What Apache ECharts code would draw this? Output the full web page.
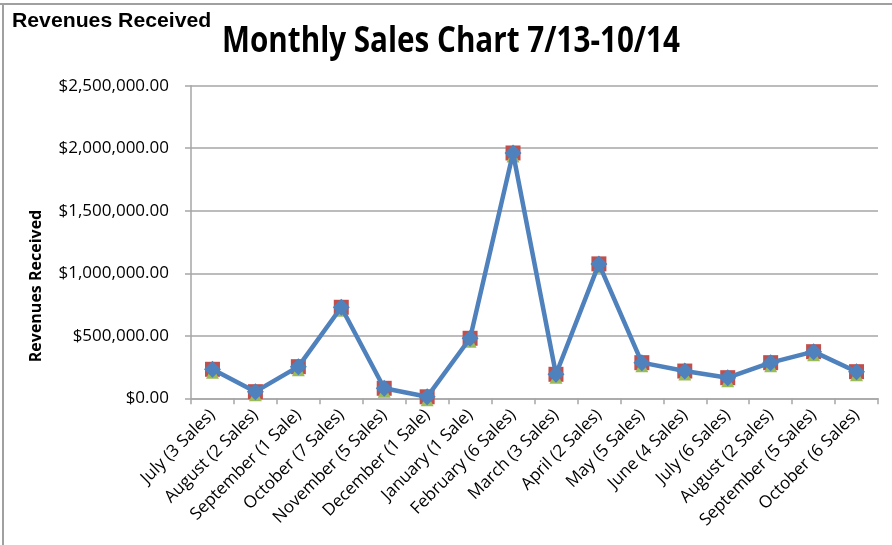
<!DOCTYPE html>
<html>
<head>
<meta charset="utf-8">
<script src="https://cdn.jsdelivr.net/npm/echarts@6/dist/echarts.min.js"></script>
<style>
html,body{margin:0;padding:0;background:#fff;}
#chart{width:892px;height:545px;}
</style>
</head>
<body>
<div id="chart"></div>
<script>
var categories = ["July (3 Sales)","August (2 Sales)","September (1 Sale)","October (7 Sales)","November (5 Sales)","December (1 Sale)","January (1 Sale)","February (6 Sales)","March (3 Sales)","April (2 Sales)","May (5 Sales)","June (4 Sales)","July (6 Sales)","August (2 Sales)","September (5 Sales)","October (6 Sales)"];
var revenues = [232000, 53000, 253000, 728000, 80000, 12000, 480000, 1962000, 192000, 1075000, 285000, 218000, 165000, 285000, 373000, 213000];
var yTicks = [0, 500000, 1000000, 1500000, 2000000, 2500000];
var chartTitle = "Monthly Sales Chart 7/13-10/14";
var cornerLabel = "Revenues Received";
var axisName = "Revenues Received";

function money(v){
  var s = Math.round(v).toString().replace(/\B(?=(\d{3})+(?!\d))/g, ",");
  return "$" + s + ".00";
}

var chart = echarts.init(document.getElementById('chart'));
var font = "'Open Sans', sans-serif";
chart.setOption({
  animation: false,
  backgroundColor: '#fff',
  grid: {left: 191, right: 14, top: 85.7, bottom: 146.7, containLabel: false},
  graphic: [
    {type: 'line', shape: {x1: 0, y1: 4, x2: 892, y2: 4}, style: {stroke: '#a0a0a0', lineWidth: 2}},
    {type: 'line', shape: {x1: 3, y1: 4, x2: 3, y2: 545}, style: {stroke: '#a0a0a0', lineWidth: 2}},
    {type: 'text', x: 12, y: 11, scaleX: 1.01, style: {text: cornerLabel, font: "bold 21px 'Liberation Sans', Arial, sans-serif", fill: '#000'}},
    {type: 'text', x: 451, y: 42, scaleX: 0.847, style: {text: chartTitle, font: "bold 35px 'Open Sans', sans-serif", fill: '#000', textAlign: 'center', textVerticalAlign: 'middle'}},
    {type: 'text', x: 36, y: 286, rotation: Math.PI/2, style: {text: axisName, font: "bold 16px 'Open Sans', sans-serif", fill: '#000', textAlign: 'center', textVerticalAlign: 'middle'}}
  ],
  xAxis: {
    type: 'category',
    data: categories,
    boundaryGap: true,
    axisLine: {lineStyle: {color: '#a6a6a6', width: 1.5}},
    axisTick: {show: true, alignWithLabel: false, length: 6, lineStyle: {color: '#a6a6a6', width: 1.5}},
    axisLabel: {rotate: 45, interval: 0, margin: 14, color: '#000', fontFamily: font, fontSize: 17}
  },
  yAxis: {
    type: 'value',
    min: 0, max: 2500000, interval: 500000,
    axisLine: {show: true, lineStyle: {color: '#a6a6a6', width: 1.5}},
    axisTick: {show: true, length: 6, lineStyle: {color: '#a6a6a6', width: 1.5}},
    splitLine: {lineStyle: {color: '#a6a6a6', width: 1.5}},
    axisLabel: {color: '#000', fontFamily: font, fontSize: 17, margin: 22, formatter: function(v){ return money(v); }}
  },
  series: [
    {type: 'line', name: 'A', data: revenues, symbol: 'rect', symbolSize: 15, itemStyle: {color: '#C0504D'}, lineStyle: {opacity: 0}, z: 2},
    {type: 'line', name: 'B', data: revenues, symbol: 'triangle', symbolSize: 13, symbolOffset: [0, 3], itemStyle: {color: '#9BBB59'}, lineStyle: {opacity: 0}, z: 3},
    {type: 'line', name: 'C', data: revenues, symbol: 'diamond', symbolSize: 17, itemStyle: {color: '#4F81BD'}, lineStyle: {color: '#4F81BD', width: 4.5}, z: 4}
  ]
});
</script>
</body>
</html>
